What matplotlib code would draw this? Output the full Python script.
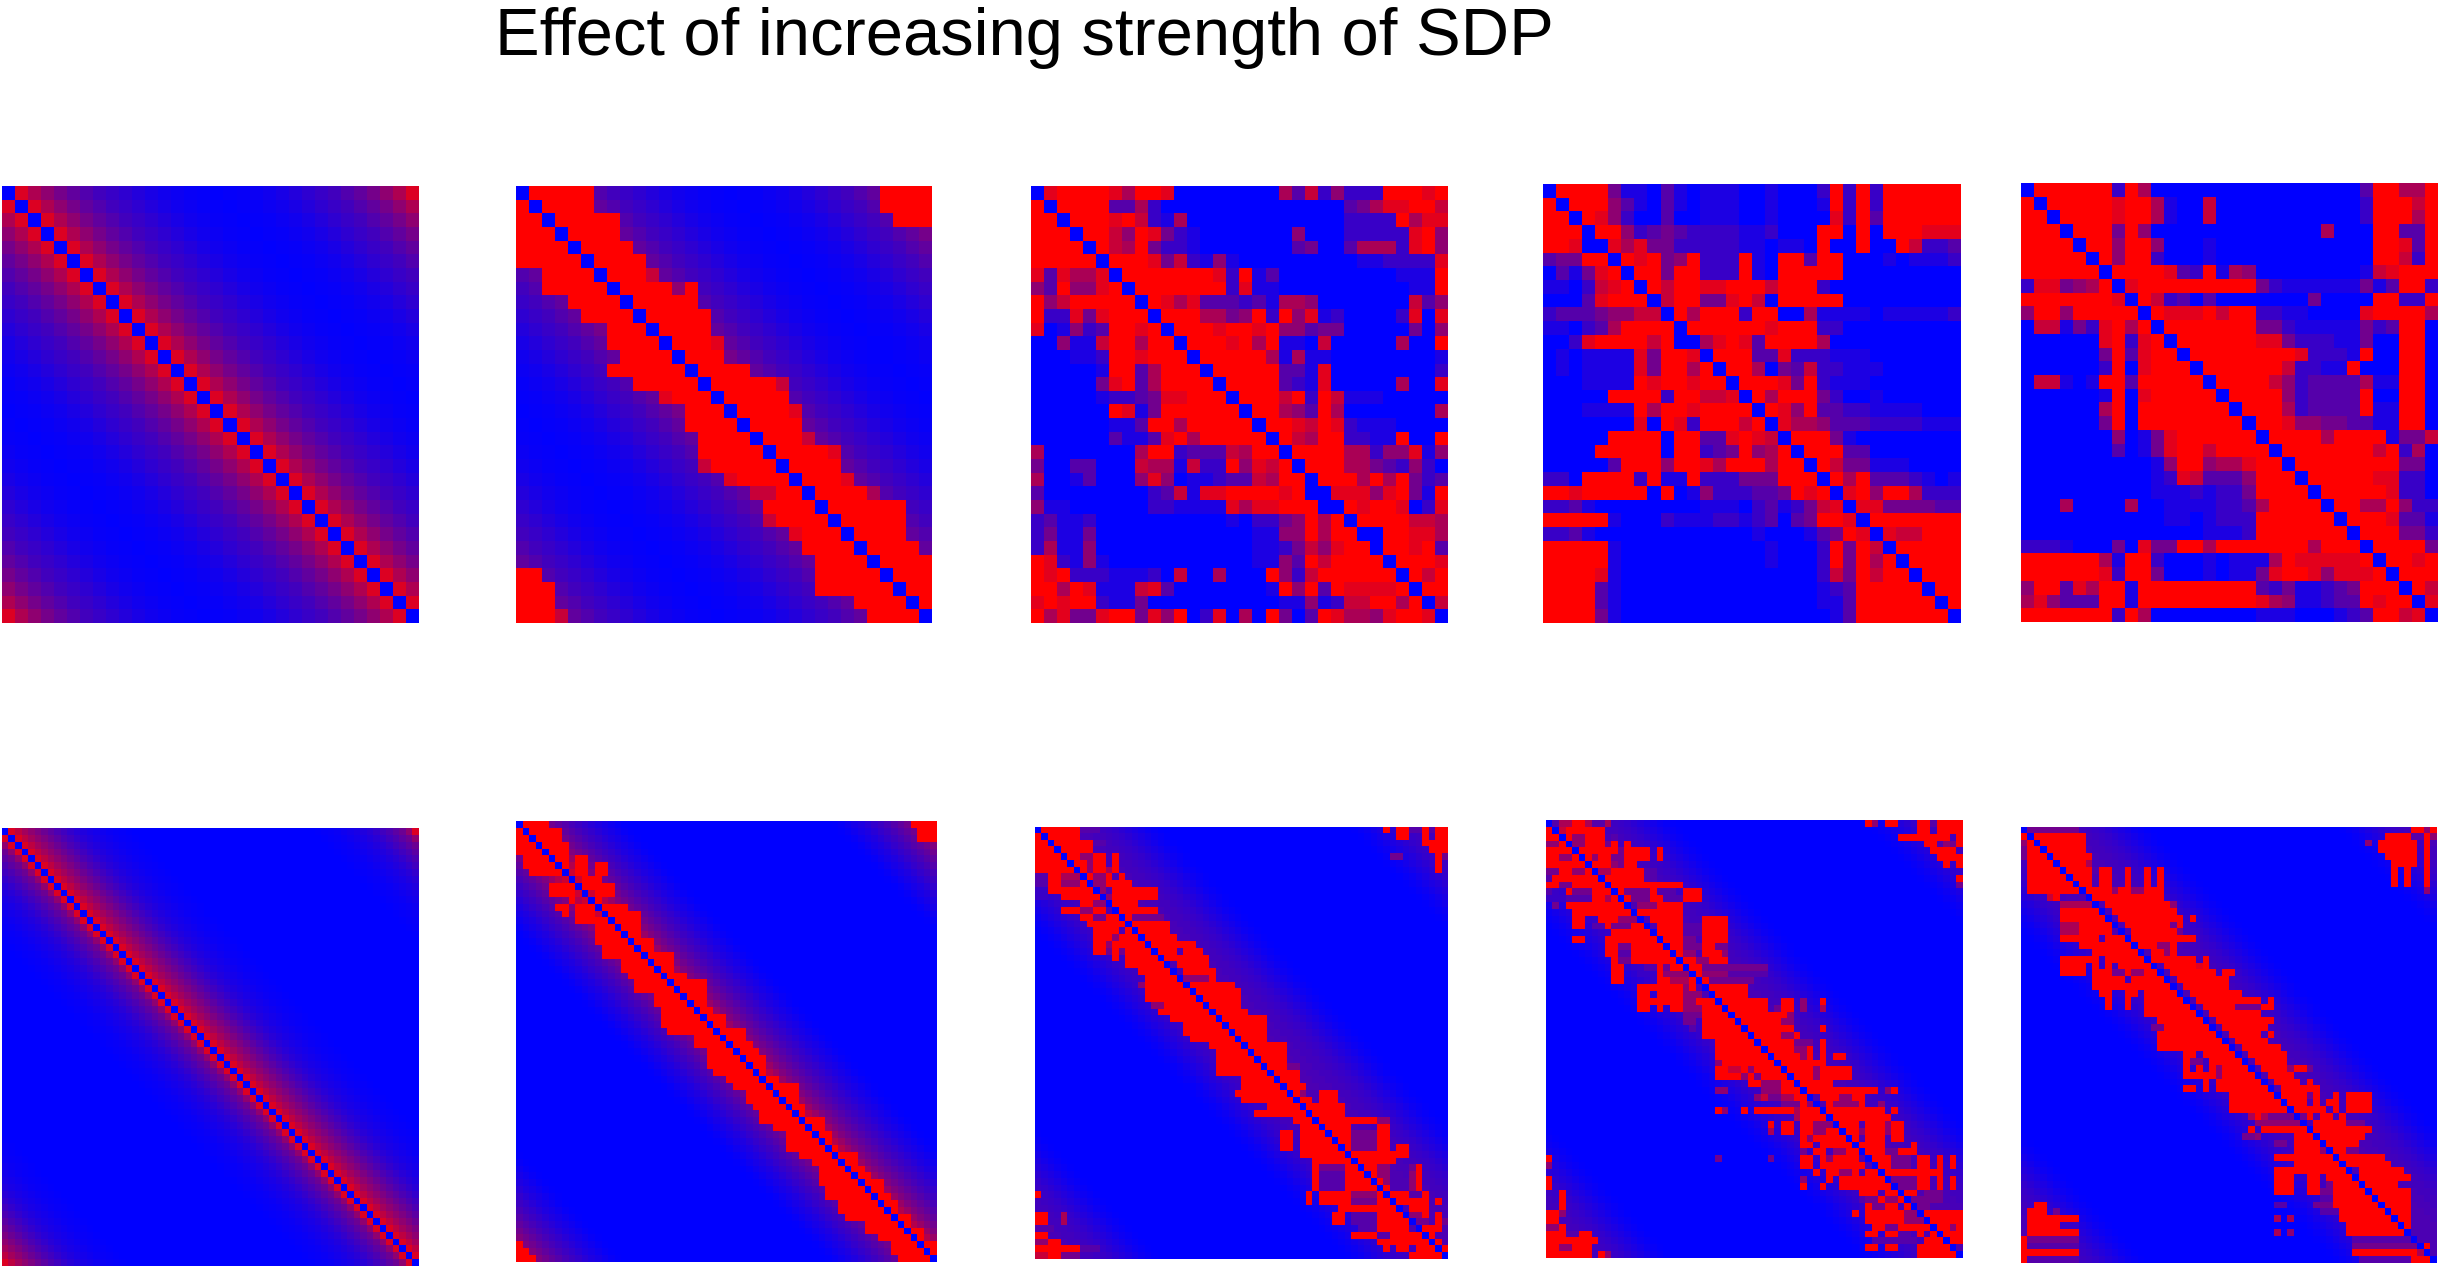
import matplotlib
matplotlib.use("Agg")
import matplotlib.pyplot as plt
import numpy as np
from matplotlib.colors import LinearSegmentedColormap

# first row of the smooth panels, 0 = blue, 1 = red
profile_32 = [0, .86, .68, .56, .46, .38, .32, .26, .22, .18, .14, .10, .07, .05, .03, .02,
              .01, .02, .03, .05, .07, .10, .14, .18, .22, .26, .32, .38, .46, .56, .68, .86]
profile_64 = [0, .86, .74, .64, .56, .49, .42, .36, .30, .25, .20, .16, .13, .10, .08, .06,
              .04, .03, .02, .01, 0, 0, 0, 0, 0, 0, 0, 0, 0, 0, 0, 0,
              0, 0, 0, 0, 0, 0, 0, 0, 0, 0, 0, 0, 0, 0, 0, 0,
              .01, .02, .03, .04, .06, .08, .10, .13, .16, .20, .25, .30, .36, .42, .56, .86]
profile_64b = [0, .8, .7, .6, .5, .44, .38, .33, .28, .24, .20, .16, .12, .09, .06, .03,
               .01, 0, 0, 0, 0, 0, 0, 0, 0, 0, 0, 0, 0, 0, 0, 0,
               0, 0, 0, 0, 0, 0, 0, 0, 0, 0, 0, 0, 0, 0, 0, 0,
               .01, .03, .06, .09, .12, .16, .20, .24, .28, .33, .38, .44, .5, .6, .7, .8]
haze_64 = [0, .3, .3, .3, .3, .3, .28, .28, .26, .26, .24, .22, .2, .17, .14, .11,
           .08, .05, .03, .01, 0, 0, 0, 0, 0, 0, 0, 0, 0, 0, 0, 0,
           0, 0, 0, 0, 0, 0, 0, 0, 0, 0, 0, 0, 0, 0, 0, 0,
           0, .01, .03, .05, .08, .11, .14, .17, .2, .22, .24, .26, .26, .28, .28, .3]

# red cells of panel 2, row by row
top2_spans = ["1-5 28-31", "0 2-5 28-31", "0-1 3-7 29-31", "0-2 4-7", "0-3 5-8", "0-4 6-9", "2-5 7-9 10:7",
              "2-6 8-11 12:5 13", "4-7 9-13", "5-8 10-14", "7-14", "7-10 12-14 15:8", "8-15", "7-17",
              "9-19 20:7", "11:8 12-20", "13-20 21:8", "13-21", "14-21 22:7", "14-23 24:8", "14:7 15-24",
              "16:8 17-24 25:8", "18-19:7 20-26 27:6", "19-29", "19:7 20-29", "21:8 22-29", "22-30",
              "23-31", "0-1 23-31", "0-2 23-31", "0-2 26-31", "0-2 3:7 27-30"]

top3 = ["08999986998000000006372522299989", "90999933620000000000000034688997",
        "99099989721600000000000022229688", "99909975984210000000500022222895",
        "99990976942210000000340036662895", "99999099984721510000000001122228",
        "83866809999999829130000000001119", "53955890999999928110000000000119",
        "95799999098683332316650000000735", "92284899909996645929581200002808",
        "80152399890999899895534400000405", "00511799699099989691107000006009",
        "00011299899909999961611000000001", "00000199369990999993318000000002",
        "00000489369999099993218000006008", "00000122348899909997929711100000",
        "00000098149999990996539600000006", "00000011399699999099879821110000",
        "00000031138969999909769922119009", "60000000699233376990999966255815",
        "40033000766172295879099966432520", "60013000585011233769909996969423",
        "30000000023718899998909888589419", "51100000022111186889990998998 28",
        "23112000000000010224596909999776", "24114000000000000115596999099886",
        "26115000000000000112475899099893", "98215100000000000115397999909998",
        "98922211120700600095279999990979", "99698111783000000019593988889099",
        "89899211400000000001151277996907", "96844899485902806094039866589980"]

top4 = ["09999411031011100100029292999999", "90999531031011100100019292999999",
        "99098520030011100100008293999999", "99909952343222211200099090999888",
        "99809868442222211 11090090097223", "34499098945922291099399000101112",
        "03148909949922291099999000000000", "11027890979988999799920000000000",
        "00038999079944897099999000000000", "23334557709699929900611110111112",
        "11023699990999999899922000000000", "00289999790868983999960000000000",
        "01011118499809993382221110000000", "01011118499690996 43722111000000",
        "00011119899899099984921110000000", "00000999929977809699942001000000",
        "00011119699899990985933221111000", "00000008098299979086653332222111",
        "00000999909933898709994100000000", "00009999909923495690999330000000",
        "00000399959986999699097441110000", "22099992911922244499909693332101",
        "99899999090152223349890895996222", "22310000000011102312478088444433",
        "99999100021112212303499809999999", "22310000000000001000134980877999",
        "99999100000000000100029497099999", "99999100000000000100029496909999",
        "99998100000000000000027497990999", "99993100000000000000012399999099",
        "99993100000000000000011399999909", "99994100000000000000001399999990"]

top5 = ["09999992960000000000000000399669", "90999998996100700000000000299979",
        "99099998996100700000000000299969", "99909994950000000000000600099339",
        "99990995995000100000000000099839", "99999095992000100000000000099729",
        "99999909999832916500000000178999", "28845690899999999942111111413992",
        "99999998097230300000004000099229", "59959999909888979922110000899996",
        "07714289690999999944211111423990", "00000089289099999988422211400990",
        "00000049389909999999982221900990", "00000029089990999999722119 00990",
        "07710199399999099997523333611990", "00000019089999909999523333900990",
        "00000069099999990999623333911990", "00000049099999999099855443311990",
        "00000005014899999909999699991447", "00000003014899799990999999979260",
        "00000000001599566899099999999440", "00000000001287333599909999988220",
        "00000000001112122499990999998220", "00060000600111122369999099669522",
        "00000000000110122299999909998331", "00000000000000111299999990999442",
        "22210004084499699999996999099994", "99999961992000101116988888909989",
        "99999982994000101148998588890999", "59938699199999999932411234999097",
        "68533399199999999986511233989908", "99999992960000000011100012399780"]

# band edges of panel 7 (first and last red column per row, rows 16 to 63)
top_rows_7 = ["1-4 60-63", "0 2-6 61-63", "0-1 3-6 61-63", "0-2 4-7", "0-3 5-7", "1-4 6-7 9-10", "1-5 7 9-10 12-13",
              "2-6 9-10 12-13", "10-11 12", "5-8 10-11 12-14", "5-8 12-14", "8 12", "6-7 9-11 13-16",
              "7 9-11 14-18", "9-13 15-18", "12-14 16-18"]
band_lo_7 = [12, 12, 13, 13, 16, 16, 17, 18, 18, 21, 21, 22, 22, 22, 23, 27, 27, 29, 29, 29, 30, 32, 33, 35,
             35, 36, 37, 37, 39, 41, 41, 41, 43, 45, 46, 46, 46, 47, 47, 49, 49, 50, 53, 53, 55, 57, 57, 58]
band_hi_7 = [18, 20, 20, 23, 23, 23, 25, 28, 28, 28, 28, 29, 31, 31, 34, 34, 35, 36, 37, 37, 37, 39, 42, 42,
             42, 43, 43, 46, 46, 47, 47, 48, 51, 51, 52, 53, 55, 55, 56, 57, 57, 59, 59, 61, 61, 63, 63, 63]
corner_7 = {61: "0", 62: "0-1", 63: "0-2"}

# panels 8 to 10: "a-b" is red, "a-b:n" is level n of 9
bot8 = ["1-6 7-9:3 54 56-57 58-59:3 60 61:3 62-63", "0 2-6 56-57 60 62-63", "0-1 3-8 9-10:3 60-63", "0-2 4-8 61-63",
        "0-3 5-6 7-8:5 9-10 12 55-56:4 62 63:4", "0-4 6-7 8:5 9-10 12 62", "0-5 7 8:5 9-10 11:6 12 62",
        "0-1:3 2-3 4-6:6 8 9-10:5 11 13", "0-1:3 2-3 4-6:5 7 9-10:5 11 12-14", "0-1:2 2-3 4-8 10:5 12-18",
        "0-1:2 4-9 11:5 12-18", "7-8 9-10:5 12-15", "4-6 7-8:5 9-10 13-18", "7-8 9-10:4 11 12 14 15-19:4",
        "8-13 15-20", "9-12 14 16-20", "9-11 12:5 13-15 17-21", "9-10 11:5 12 13 14-16 18-22 23-24",
        "9-10 11:4 12 13:4 14-17 19-21 23-25", "12 14-18 20-22 23-26", "14-20 22-26", "16-21 23-27",
        "17-21 23-26:5 27", "16:5 17-22 24-30", "17-23 25-31", "17-24 26-31", "18-19:5 20-25 27-31",
        "19-26 28-32", "21-27 29-35", "23-28 30-35", "23-29 31-35", "24-30 32-35", "27-31 33-38", "28-32 34-38",
        "28-33 35-38", "28-34 36-38 39-40:4", "28-35 37-40", "32-36 38-40", "32-37 39-41", "31-38 40 41:5 44-46",
        "32-39 41-42 44-46", "36-40 42 43-47", "34-41 43-47", "40-42 44-52 53-54:5", "41-42 43 45-48 53-54",
        "38-39 41-44 46-48 49-52:4 53-54", "38-39 41-45 47-48 49-52:4 53-54", "38-39 41-46 48 49-52:4 53-54 56-57",
        "41-47 49-55 56-57", "43-48 50-55", "43 44-47:4 48-49 51-52 53-54:5 58-59:4 59", "43 44-47:3 48-50 52-53 53-54:5 58:5 59",
        "43 44-47:3 48-51 53 54:5 58:5 59", "43 44-47:3 48-52 54 58:5 59", "0 42 44-48 49-52:5 53 55-57 58-59:3 60",
        "42 44-47 48 49-52:4 53-54 56-60 62", "47-56 58-60", "0-1 4:6 46-47 49-52:3 53-56 58-59:5 60 62",
        "0-1 4:6 46-47 49-52:3 53-57 59-60:4 62 63:4", "0-2:3 50-53:3 53-57 60-62", "0-1 49-52 53-54:3 55-60 61",
        "0:5 1:5 2-3 53-60 62", "0-6 7-9:3 54 56-57 59-61 63", "0-1:7 2-3 4-6:4 58-62"]

bot9 = ["0 1:3 2-3:6 4-5 6:6 7-8:3 9:6 49 50:5 52-53 57-58 59:3 60-63", "0 2:7 3-8 57-58 60-63",
        "0-1 3 4-5:5 6-8 10:3 54-56 57-58 59 60-61 63", "0-1:5 2 4-5:5 6-8 9:4 10 12 58-59 60:3 61:5 62:4 63",
        "0-3 5-6 7-8 9-10 11:4 12-15 17 59-62", "0-1 2-3:5 4 6 7:5 8-9 10-11:4 12-15 17 60-63",
        "0-5 7-9 10:5 11:4 12-13 61 63", "0-1:4 2-3 4-5:5 6 8-9:6 10-14 15-16:3", "0:3 1-7 9-14 15-16:3 63",
        "0-1 2-3:4 4-8 10-13 14-20 63:4", "0:3 1:2 3 4-6:4 7-9 11 12-15:4 16 17-19:3 21-23",
        "0-2:2 3-6:3 7-8 9:6 10 12 13-15:4 16-17 18-20:3 21-23", "1:4 3-5 6-8 9-12 14-16:5 17-20",
        "4-9 10-12 14-20", "4-5 8-9 10 11-13:5 14 16-20 24-27", "4-5 7-8:3 9 10-12:4 13-15 17-20 21-23:3 24-27",
        "10-15 17-20 21-23:3 24-27", "4-5 9 10-12 13-16 18-20 21-22:4 24-27", "9-10 11-12:4 13-17 19-20 21-23:4 24-25 26-27:4",
        "9-10 11-12:3 13-18 20 21-22:5 24-26 27:5", "10 11-12:4 13-19 21-22 23:5 24:5 25-27",
        "10-11 15-16:3 17 18:4 19-20 22 23 24-33:4", "10-11 14-16:2 17 18:5 19-21:5 23 24-27:5 28-33:3",
        "10-11 17 18 19-21:6 22 24 25-31:4", "14-16 17 18-20 21:5 22 25-30", "14-15 17-20 21-23:5 26-30",
        "14-15 16 17 18-20 21-22:5 23-25 27-33 36-37 39:5 42", "14-15 17 19-20 21-23:5 24-26 28-33 35:4 36-37 39:5 42:6",
        "21-23:4 24-27 29-36 37:5", "21-22:4 24-28 30-36 36-37:5", "22:3 24-29 31-37 42", "24-30 32-33 34-36 36-37:5 38",
        "26-31 33-37 38:4 39-40:4 42", "26-32 34-37 38-39:5 40 42", "26-33 35-38 39:5 40 42 44-45", "26:5 27-34 36-39 40-41 42",
        "26-27 28-29:7 30 31:5 32-35 37-40 41:5 42-43 44-46", "26-29 30:5 31 32:4 33-36 38-40 41:5 42 43 44-46",
        "31-32 33-35:5 36-37 39-43", "26-27:5 33-35:5 36-38 40-42 43-48 49-50 52:5 53", "32:5 33:7 34-35:4 36-38:6 38-40 42-44 45-46:5 47 48",
        "36-38:4 39 40:5 41 43 44-45:5 46-47:5 48 51:5", "26 27:5 30 32-37 38:6 39-41 43-48 49-51 53", "38:6 39-42 44-48 49-52",
        "34 36-37 39-40 41-43:5 45-47 49-51 52:5 53-54", "34:6 36-37 39-40 41-42:5 43-44 46-47 48:5 49-51 52:5 53-54",
        "39 40:5 41 42-45 47 49-51 53-54", "39-40 42-46 48-51 56", "39:4 41 42 44-45:5 46-47 49-51 52-53:4 54-56",
        "0 26:4 34:4 39-40 42 43:5 44-47 50-52 53-55:4 57-58 60 62", "0:5 39-40 42 43 44-47 48 51-52 53-55:4 57-58 60 62",
        "41 43-44 45-46:5 47 49-50 52-58 59-60", "0 39:5 43 45-48 49 50-51 53-54:4 55-56:4 57-58 60 62",
        "0 39 42 45-48 49 50-52 54:4 55-56:4 57-58 60 62", "2 48 49-50 52 53 54:4 55-56 58-60:4", "2 48:3 49-50:4 51 52-53:5 54 56-60:4",
        "2 49 50-51:4 52-53 55 56-58:4", "0-1 2:5 47 49-50 51 52-54 55-57:5 58-59 60-63", "0-1 49-51 52-54 55-57:5 59 60-63",
        "0:5 1:5 2 50-51 52-53:4 54-58 60-61 62:5 63", "0-2 3-4:3 5-6 49-50 52-53 54-55:3 57 59 60-63", "0-5 6 7 50-56:3 58-63",
        "0-1 2-3:5 4-5 6 49-50 52-53 57-62", "0-6 8 9:5 57-62"]

bot10 = ["1-8:4 60-61 62:5 63", "0 2-9 56-60 60-61:3 62 63:5", "0:5 1 3-9 53:5 55-60 62", "0:4 1-2 4-9 55-60 62",
         "0:4 1-3 5-10 56-60 62", "1-4 6-9 10:6 57-60 62", "1-5 7-10 11:3 12-13 16 19 21 57 59 62", "1-6 8-10 12-13 16 19 21 57 59 62",
         "1-7 9-10 12-13 16 19 21 57 59 62", "1-8 10-13 14:5 15 16 17-18:5 19-21 62:5", "4:7 5 11-21", "6-10:6 11 13-14 15-22 23:5",
         "6-10 11 12 14-23", "6-11 12 13 15-24 26", "6-8:6 9-10 11-13 14 16-22 23:4 24", "6-8:6 9-13 15 17-23 24:4", "6-11 13-15 17-26",
         "9-10 11-13 14 15-16 18 19-21 21-23:5 23", "11-12 13 14-16 17-18 20-21 22:5 23", "6-10 11 13-15 16-18 20-26 28",
         "6-9 11 13 15-20 22-26 27:8 28", "6-9 11-12 13 14-15:4 16 17-18:5 19-21 23-29 31-32", "11-12 12-15 17-22 24-31",
         "11-16 17-18 19-23 25-31", "12-13 16-17 19-24 26-33", "13 16 19-25 27-36 38", "13 16 19-26 28-32 33-36:4 37 38", "19-27 29-36",
         "21-28 30-38", "20-22:4 22-29 31-36 37", "21-30 32-36 38", "21-31 33-37", "21-23 24-32 34-39", "25-26 28-33 35-40", "25 26-27:4 29-34 36-40",
         "25 27 29 30:5 31-35 37-40 41:5 42-43 44:4", "25-29 30:5 31-36 38-41", "28 30 31-37 39-42 44", "25-26 28 30-38 40-43 44-45",
         "32-38 40-43 44:4 45 48 50-53", "32-39 41-43 45 47 48 50-53", "32-40 42-44 45-46 48 50-53", "35:6 36 37:6 38-43:4 44 46-47 49",
         "36-42:5 43 45 46-49 50-52:4", "35 37-43 45-53", "34-35:4 36:5 42-44 46-52", "39-40:4 42-45 47-49 50-51", "42-45 46:5 48-49 50-51:4",
         "39-41 42-47 49-55", "42-48 50-56", "39-41 42-43 44-45 46-47 47-50 52-57 58", "39-41 44-45 47-50 52-59", "39-41 44-45 47-48:4 48-51 53-57",
         "39-41 44-45 46-47:4 48-52 54-59", "46-47:3 48-53 55-59", "2-3 39-40:3 45-47:4 48-54 56-59", "1-3 5:4 46-48:3 49-55 57-59",
         "1-8 39:6 41:6 49-56 58-59", "1-5 6-8:2 50-57 59", "1-8 39:6 41:5 50-58", "0 1-8:4 51-59:3 60", "0 1-8:3 51-60:4 62",
         "0 1-8 51-60 61:6", "0 1-8:3 52-59:3 60-62"]

title = "Effect of increasing strength of SDP"

# left, right, top, bottom of each panel in pixels
W, H = 2445, 1266
boxes = [(2, 418, 186, 623), (516, 932, 186, 623), (1031, 1447, 186, 623), (1543, 1961, 184, 623), (2021, 2438, 183, 622),
         (2, 418, 828, 1266), (516, 937, 821, 1262), (1035, 1447, 827, 1259), (1546, 1963, 820, 1258), (2021, 2437, 827, 1263)]


def circulant(profile):
    return np.array([np.roll(profile, i) for i in range(len(profile))], dtype=float)


def from_digits(rows):
    m = np.zeros((32, 32))
    for i, r in enumerate(rows):
        r = r.replace(" ", "0")[:32]
        m[i, :len(r)] = [int(c) / 9 for c in r]
    return m


def paint(m, rows, first=0):
    for i, r in enumerate(rows[:len(m) - first]):
        for tok in r.split():
            part, _, lvl = tok.partition(":")
            a, _, b = part.partition("-")
            b = b or a
            m[i + first, int(a):int(b) + 1] = int(lvl) / 9 if lvl else 1
    return m


p1 = circulant(profile_32)
p2 = paint(circulant(profile_32), top2_spans)
p3 = from_digits(top3)
p4 = from_digits(top4)
p5 = from_digits(top5)
p6 = circulant(profile_64)
p7 = paint(circulant(profile_64b), top_rows_7)
for k in range(len(band_lo_7)):
    p7[16 + k, band_lo_7[k]:band_hi_7[k] + 1] = 1
for k in corner_7:
    paint(p7[k:k + 1], [corner_7[k]])
p8 = paint(circulant(haze_64), bot8)
p9 = paint(circulant(haze_64), bot9)
p10 = paint(circulant(haze_64), bot10)

cmap = LinearSegmentedColormap.from_list("br", ["#0000ff", "#ff0000"])

fig = plt.figure(figsize=(W / 100, H / 100), dpi=100)
for m, (l, r, t, b) in zip([p1, p2, p3, p4, p5, p6, p7, p8, p9, p10], boxes):
    np.fill_diagonal(m, 0)
    ax = fig.add_axes([l / W, 1 - b / H, (r - l) / W, (b - t) / H])
    ax.imshow(m, cmap=cmap, vmin=0, vmax=1, aspect="auto", interpolation="nearest")
    ax.axis("off")

fig.text(495 / W, 1 - 55 / H, title, family="Liberation Sans", fontsize=48.2, color="black", ha="left", va="baseline")
fig.savefig("out.png", dpi=100)
